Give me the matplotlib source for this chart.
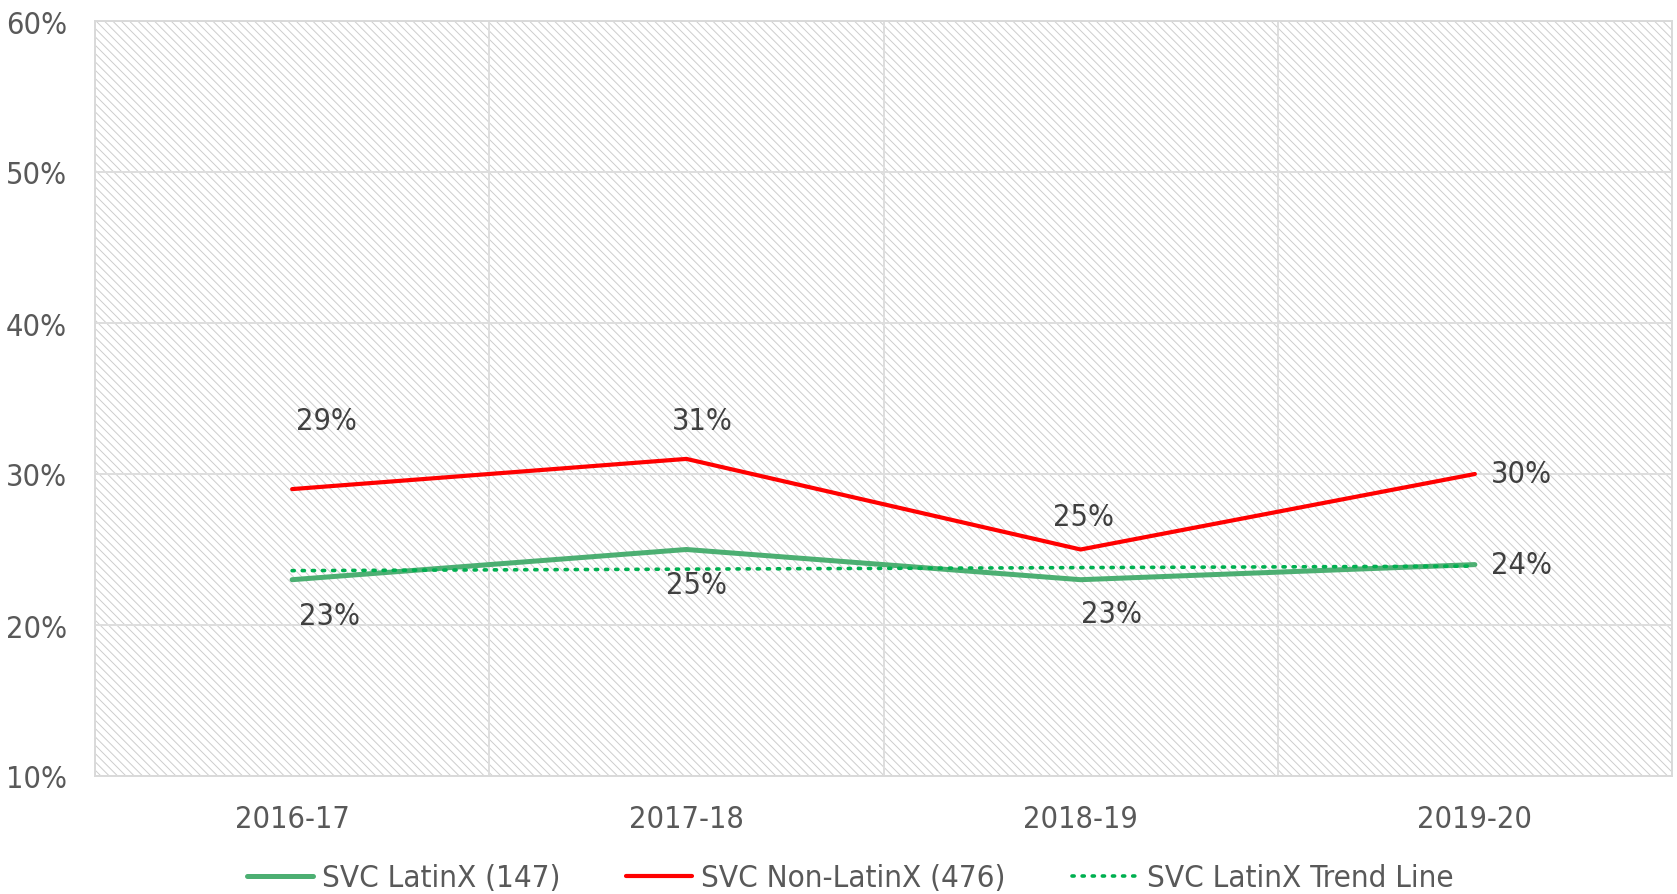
import matplotlib
matplotlib.use("Agg")
import matplotlib.pyplot as plt
from matplotlib.patches import Rectangle
from matplotlib.ticker import FuncFormatter

plt.rcParams['font.family'] = ['DejaVu Sans']
plt.rcParams['font.stretch'] = 'condensed'
plt.rcParams['hatch.linewidth'] = 0.7

# ---- data ----
years = ["2016-17", "2017-18", "2018-19", "2019-20"]
latinx = [23, 25, 23, 24]
non_latinx = [29, 31, 25, 30]
latinx_trend = [23.6, 23.7, 23.8, 23.9]
label_latinx = "SVC LatinX (147)"
label_non = "SVC Non-LatinX (476)"
label_trend = "SVC LatinX Trend Line"
y_ticks = [10, 20, 30, 40, 50, 60]

# label offsets in pixels (style)
off_non = [(34, 69), (16, 38), (3, 33), (47, 0)]
off_lat = [(37, -36), (10, -35), (31, -34), (47, 0)]

W, H = 1677, 895
fig = plt.figure(figsize=(W / 100, H / 100), dpi=100)
ax = fig.add_axes([95 / W, 118 / H, 1577 / W, 755 / H])

x = list(range(len(years)))
ax.set_xlim(-0.5, len(years) - 0.5)
ax.set_ylim(y_ticks[0], y_ticks[-1])

# hatched background
ax.patch.set_facecolor('white')
bg = Rectangle((0, 0), 1, 1, transform=ax.transAxes, facecolor='white',
               edgecolor='#cdcdcd', hatch='\\\\\\\\', lw=0, zorder=0)
ax.add_patch(bg)

# gridlines
for yv in y_ticks:
    ax.axhline(yv, color='#dedede', lw=1.4, zorder=1)
for xv in [i + 0.5 for i in range(-1, len(years))]:
    ax.axvline(xv, color='#dedede', lw=1.4, zorder=1)

ax.plot(x, latinx, color='#4CAF72', lw=3.6, zorder=3, label=label_latinx,
        solid_capstyle='round')
ax.plot(x, non_latinx, color='#FF0000', lw=3.0, zorder=4, label=label_non,
        solid_capstyle='round')
ax.plot(x, latinx_trend, color='#00B050', lw=2.6, ls=(0, (0.6, 2.2)),
        dash_capstyle='round', zorder=5, label=label_trend)

for i, v in enumerate(non_latinx):
    ax.annotate(f"{v}%", (x[i], v), xytext=off_non[i], textcoords='offset pixels',
                ha='center', va='center', fontsize=22, color='#404040', zorder=6)
for i, v in enumerate(latinx):
    ax.annotate(f"{v}%", (x[i], v), xytext=off_lat[i], textcoords='offset pixels',
                ha='center', va='center', fontsize=22, color='#404040', zorder=6)

ax.set_xticks(x)
ax.set_xticklabels(years)
ax.set_yticks(y_ticks)
ax.yaxis.set_major_formatter(FuncFormatter(lambda v, p: f"{v:.0f}%"))
ax.tick_params(axis='both', length=0, labelsize=22, labelcolor='#595959')
ax.tick_params(axis='x', pad=20)
ax.tick_params(axis='y', pad=20)

for s in ax.spines.values():
    s.set_color('#d9d9d9')
    s.set_linewidth(1.4)

leg = fig.legend(loc='center', bbox_to_anchor=(0.507, 16 / H), ncol=3,
                 frameon=False, fontsize=22.5, handlelength=2.1,
                 columnspacing=2.1, handletextpad=0.3, labelcolor='#595959')

fig.savefig("out.png", dpi=100)
